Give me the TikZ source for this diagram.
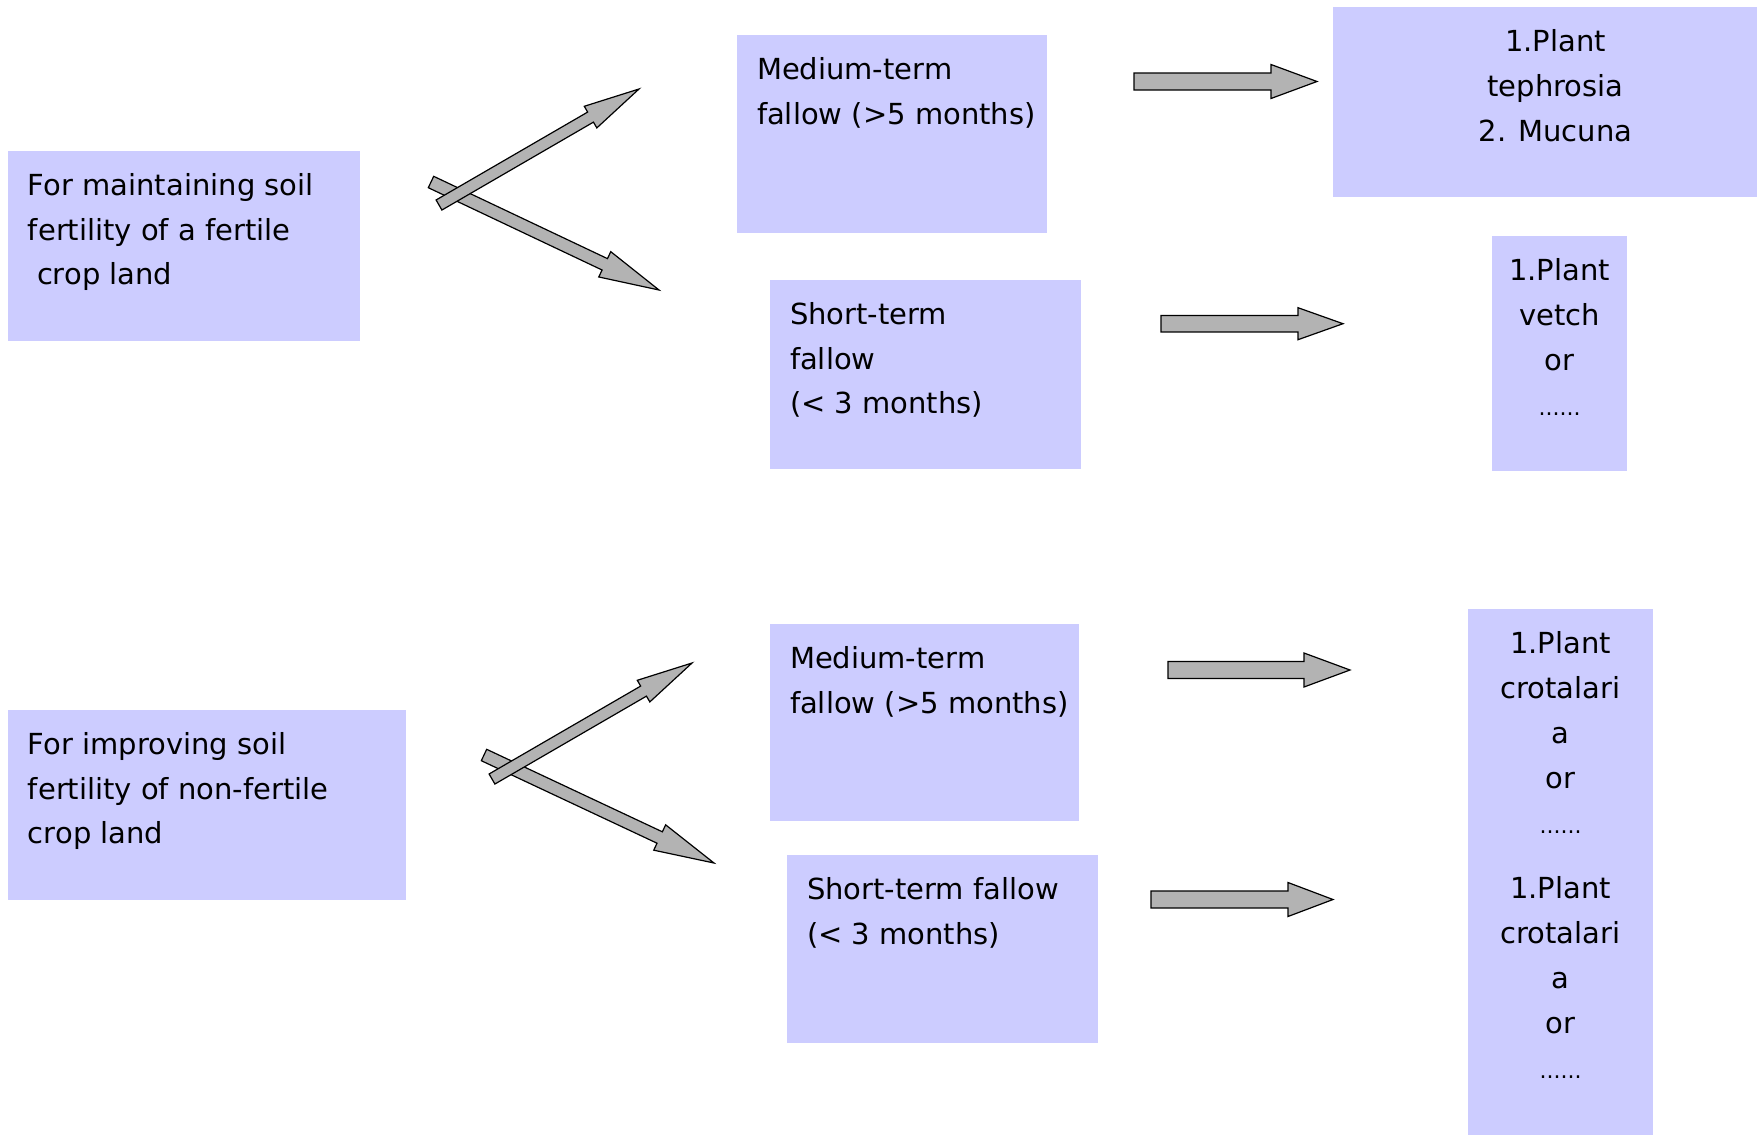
\documentclass[tikz,border=0pt]{standalone}
\usepackage{fontspec}
\setmainfont{DejaVu Sans}
\usetikzlibrary{calc}
\definecolor{boxblue}{HTML}{CCCCFF}
\definecolor{arrowgray}{HTML}{B3B3B3}
\newcommand\boxfont{\fontsize{29}{44.8}\selectfont}
\newcommand\smalldots{{\fontsize{22}{44.8}\selectfont ......}}
\newcommand\lbox[6]{\node[box] (#1) at (#2,#3) {\parbox[t][#5][t]{#4}{\boxfont\raggedright\leftskip=20pt\relax\vspace*{5pt}\strut #6}};}
\newcommand\cbox[6]{\node[box] (#1) at (#2,#3) {\parbox[t][#5][t]{#4}{\boxfont\centering\vspace*{5.5pt}\strut #6}};}
\newcommand\blkarrow[5]{%
  \coordinate (hb) at ($(#2)!#5!(#1)$);
  \draw[blk] ($(#1)!#3!90:(#2)$) -- ($(hb)!#3!90:(#2)$) -- ($(hb)!#4!90:(#2)$) -- (#2)
    -- ($(hb)!#4!-90:(#2)$) -- ($(hb)!#3!-90:(#2)$) -- ($(#1)!#3!-90:(#2)$) -- cycle;}
\tikzset{
  box/.style={fill=boxblue, draw=none, inner xsep=0pt, inner ysep=8pt, anchor=north west, outer sep=0pt},
  blk/.style={fill=arrowgray, draw=black, line width=1.2pt, line join=miter}
}
\begin{document}
\begin{tikzpicture}[x=1pt,y=-1pt]
\useasboundingbox (0,0) rectangle (1757,1136);
\clip (0,0) rectangle (1757,1136);
% boxes
\lbox{a1}{8}{151}{352pt}{174pt}{For maintaining soil\\fertility of a fertile\\\hspace*{9pt}crop land}
\lbox{m1}{737}{35}{310pt}{182pt}{Medium-term\\fallow (>5 months)}
\lbox{s1}{770}{280}{311pt}{173pt}{Short-term\\fallow\\(< 3 months)}
\cbox{r1}{1333}{7}{445pt}{174pt}{1.Plant\\tephrosia\\2. Mucuna}
\cbox{r2}{1492}{236}{135pt}{219pt}{1.Plant\\vetch\\or\\\smalldots}
\lbox{a2}{8}{710}{398pt}{174pt}{For improving soil\\fertility of non-fertile\\crop land}
\lbox{m2}{770}{624}{309pt}{181pt}{Medium-term\\fallow (>5 months)}
\lbox{s2}{787}{855}{311pt}{172pt}{Short-term fallow\\(< 3 months)}
\cbox{r3}{1468}{609}{185pt}{510pt}{1.Plant\\crotalari\\a\\or\\\smalldots\\[21pt]1.Plant\\crotalari\\a\\or\\\smalldots}
% arrow end points
\coordinate (h1a) at (1134,81.5);  \coordinate (h1b) at (1317,81.5);
\coordinate (h2a) at (1161,323.7); \coordinate (h2b) at (1343,323.7);
\coordinate (h3a) at (1168,670);   \coordinate (h3b) at (1350,670);
\coordinate (h4a) at (1151,899.5); \coordinate (h4b) at (1333,899.5);
\coordinate (d1a) at (439,205); \coordinate (d1b) at (639,89);
\coordinate (d2a) at (431,182); \coordinate (d2b) at (659,290);
\coordinate (d3a) at (492,779); \coordinate (d3b) at (692,663);
\coordinate (d4a) at (484,755); \coordinate (d4b) at (714,863);
% arrows
\blkarrow{d2a}{d2b}{6.3pt}{14pt}{60pt}
\blkarrow{d1a}{d1b}{5.8pt}{12.5pt}{56pt}
\blkarrow{d4a}{d4b}{6.3pt}{14pt}{60pt}
\blkarrow{d3a}{d3b}{5.8pt}{12.5pt}{56pt}
\blkarrow{h1a}{h1b}{8.5pt}{17pt}{46pt}
\blkarrow{h2a}{h2b}{8.2pt}{16pt}{45pt}
\blkarrow{h3a}{h3b}{8.5pt}{17pt}{46pt}
\blkarrow{h4a}{h4b}{8.5pt}{17pt}{45pt}
\end{tikzpicture}
\end{document}
